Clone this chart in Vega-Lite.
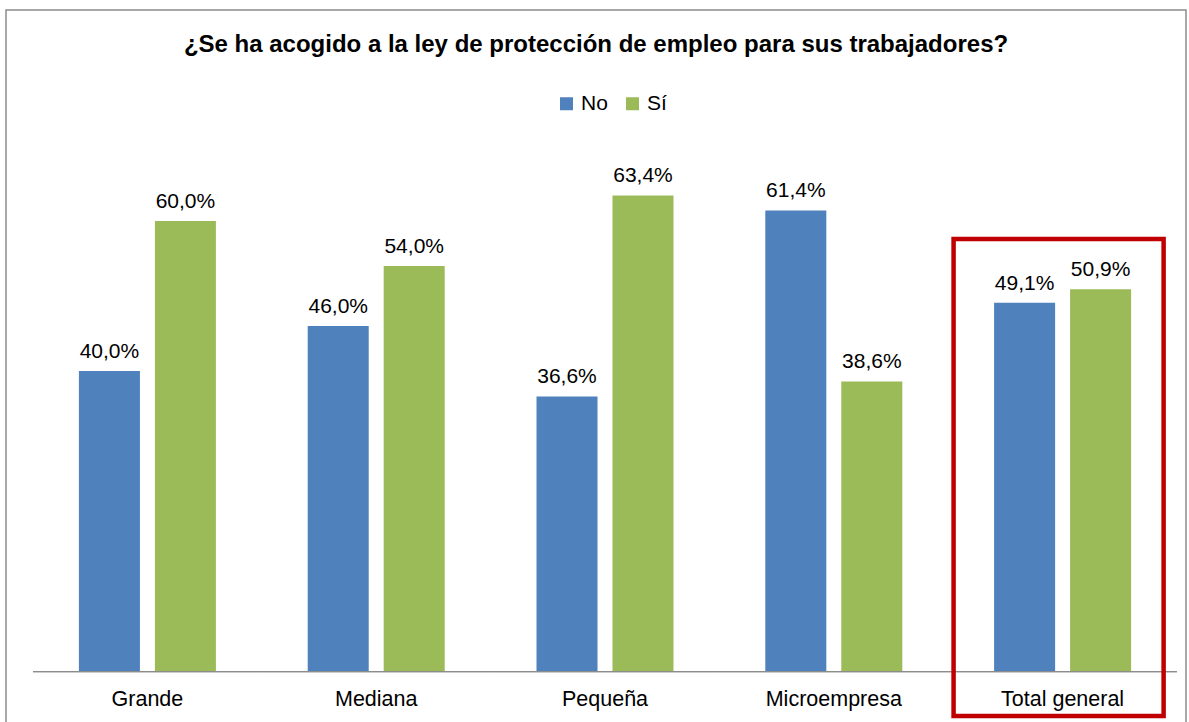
{
  "$schema": "https://vega.github.io/schema/vega-lite/v6.json",
  "autosize": {"type": "none"},
  "padding": {"left": 6, "top": 10, "right": 3, "bottom": 0},
  "width": 1180,
  "height": 720,
  "background": "white",
  "config": {
    "locale": {"number": {"decimal": ",", "thousands": ".", "grouping": [3], "currency": ["", " €"]}},
    "view": {"stroke": "#8c8c8c", "strokeWidth": 1.5},
    "font": "Liberation Sans"
  },
  "title": {
    "text": "¿Se ha acogido a la ley de protección de empleo para sus trabajadores?",
    "font": "Liberation Sans",
    "fontSize": 24,
    "fontWeight": "bold",
    "color": "black",
    "anchor": "middle",
    "frame": "group",
    "baseline": "alphabetic",
    "offset": -66
  },
  "data": {
    "values": [
      {"category": "Grande", "serie": "No", "value": 0.400},
      {"category": "Grande", "serie": "Sí", "value": 0.600},
      {"category": "Mediana", "serie": "No", "value": 0.460},
      {"category": "Mediana", "serie": "Sí", "value": 0.540},
      {"category": "Pequeña", "serie": "No", "value": 0.366},
      {"category": "Pequeña", "serie": "Sí", "value": 0.634},
      {"category": "Microempresa", "serie": "No", "value": 0.614},
      {"category": "Microempresa", "serie": "Sí", "value": 0.386},
      {"category": "Total general", "serie": "No", "value": 0.491},
      {"category": "Total general", "serie": "Sí", "value": 0.509}
    ]
  },
  "layer": [
    {
      "mark": {"type": "bar"},
      "encoding": {
        "x": {
          "field": "category", "type": "nominal",
          "sort": ["Grande", "Mediana", "Pequeña", "Microempresa", "Total general"],
          "scale": {"paddingInner": 0, "paddingOuter": 0.0787, "align": 0.75},
          "axis": {"title": null, "labelAngle": 0, "ticks": false, "domain": false, "offset": -59, "labelPadding": 17, "labelFontSize": 21.5, "labelColor": "black", "labelFont": "Liberation Sans"}
        },
        "xOffset": {"field": "serie", "type": "nominal", "scale": {"paddingInner": 0.197, "paddingOuter": 0.604}},
        "y": {"field": "value", "type": "quantitative", "scale": {"domain": [-0.07867, 0.88133], "nice": false, "zero": false}, "axis": null},
        "y2": {"datum": 0},
        "color": {
          "field": "serie", "type": "nominal",
          "scale": {"domain": ["No", "Sí"], "range": ["#4F81BD", "#9BBB59"]},
          "legend": {"title": null, "orient": "none", "legendX": 550, "legendY": 83, "direction": "horizontal", "symbolType": "square", "symbolSize": 169, "symbolStrokeWidth": 0, "labelFontSize": 21, "labelFont": "Liberation Sans", "labelColor": "black", "labelOffset": 4, "columnPadding": 14}
        }
      }
    },
    {
      "mark": {"type": "bar", "color": "#8c8c8c", "width": {"band": 1}},
      "encoding": {
        "x": {"field": "category", "type": "nominal", "sort": ["Grande", "Mediana", "Pequeña", "Microempresa", "Total general"]},
        "y": {"datum": 0},
        "y2": {"datum": -0.0018}
      }
    },
    {
      "mark": {"type": "text", "baseline": "alphabetic", "dy": -13, "fontSize": 21, "font": "Liberation Sans", "color": "black"},
      "encoding": {
        "x": {"field": "category", "type": "nominal", "sort": ["Grande", "Mediana", "Pequeña", "Microempresa", "Total general"]},
        "xOffset": {"field": "serie", "type": "nominal"},
        "y": {"field": "value", "type": "quantitative"},
        "text": {"field": "value", "type": "quantitative", "format": ".1%"}
      }
    },
    {
      "data": {"values": [{"category": "Total general", "top": 0.576, "bottom": -0.060}]},
      "mark": {"type": "rect", "filled": false, "stroke": "#C00000", "strokeWidth": 4.5, "width": {"band": 0.918}},
      "encoding": {
        "x": {"field": "category", "type": "nominal", "sort": ["Grande", "Mediana", "Pequeña", "Microempresa", "Total general"]},
        "xOffset": {"value": -4},
        "y": {"field": "top", "type": "quantitative"},
        "y2": {"field": "bottom"}
      }
    }
  ]
}
